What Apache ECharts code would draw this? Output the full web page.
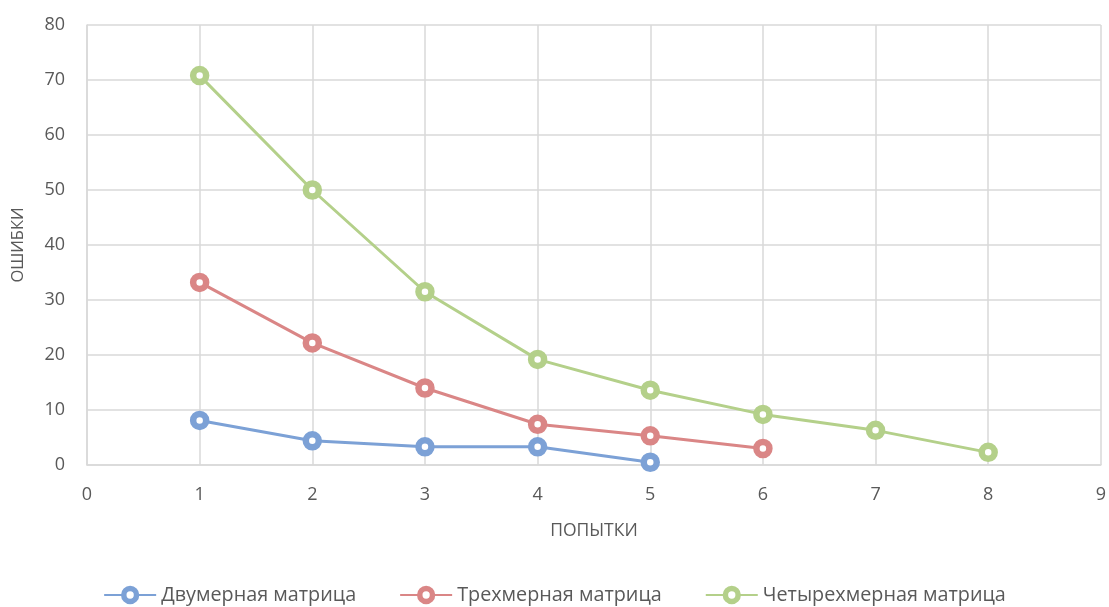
<!DOCTYPE html>
<html>
<head>
<meta charset="utf-8">
<script src="https://cdn.jsdelivr.net/npm/echarts@6/dist/echarts.min.js"></script>
<style>
  html, body { margin: 0; padding: 0; background: #fff; }
  #chart { width: 1109px; height: 607px; }
</style>
</head>
<body>
<div id="chart"></div>
<script>
// Attempt number (x) and error count (y) for each matrix type
const seriesNames = ['Двумерная матрица', 'Трехмерная матрица', 'Четырехмерная матрица'];
const attempts2d = [1, 2, 3, 4, 5];
const errors2d = [8.1, 4.4, 3.3, 3.3, 0.5];
const attempts3d = [1, 2, 3, 4, 5, 6];
const errors3d = [33.2, 22.2, 14.0, 7.4, 5.3, 3.0];
const attempts4d = [1, 2, 3, 4, 5, 6, 7, 8];
const errors4d = [70.8, 50.0, 31.5, 19.2, 13.6, 9.2, 6.3, 2.3];
const colors = ['#7ca1d6', '#da8686', '#b4d08a'];

const pairs = (xs, ys) => xs.map((x, i) => [x, ys[i]]);
const textColor = '#595959';
const font = 'Open Sans';

const ringStyle = (color) => ({ color: '#ffffff', borderColor: color, borderWidth: 6.5 });

const makeSeries = (name, data, color) => ({
  name,
  type: 'line',
  data,
  symbol: 'circle',
  symbolSize: 13,
  lineStyle: { color, width: 3 },
  itemStyle: ringStyle(color),
  emphasis: { disabled: true },
  z: 3
});

const chart = echarts.init(document.getElementById('chart'), null, { renderer: 'canvas' });
chart.setOption({
  animation: false,
  backgroundColor: '#ffffff',
  textStyle: { fontFamily: font, color: textColor },
  grid: { left: 87, right: 7, top: 25, bottom: 142 },
  xAxis: {
    type: 'value',
    min: 0, max: 9, interval: 1,
    name: 'ПОПЫТКИ',
    nameLocation: 'middle',
    nameGap: 57,
    nameTextStyle: { fontSize: 17.5, color: textColor, fontFamily: font },
    axisLine: { show: true, lineStyle: { color: '#d9d9d9', width: 1.5 } },
    axisTick: { show: false },
    axisLabel: { fontSize: 18, color: textColor, margin: 21, fontFamily: font },
    splitLine: { show: true, lineStyle: { color: '#d9d9d9', width: 1.5 } }
  },
  yAxis: {
    type: 'value',
    min: 0, max: 80, interval: 10,
    name: 'ОШИБКИ',
    nameLocation: 'middle',
    nameGap: 60,
    nameTextStyle: { fontSize: 16.5, color: textColor, fontFamily: font },
    axisLine: { show: true, lineStyle: { color: '#d9d9d9', width: 1.5 } },
    axisTick: { show: false },
    axisLabel: { fontSize: 18, color: textColor, margin: 22, fontFamily: font },
    splitLine: { show: true, lineStyle: { color: '#d9d9d9', width: 1.5 } }
  },
  legend: {
    bottom: -3,
    left: 'center',
    itemWidth: 52,
    itemHeight: 16,
    itemGap: 43,
    textStyle: { fontSize: 19.8, color: textColor, fontFamily: font },
    data: seriesNames.map((name, i) => ({
      name,
      itemStyle: { color: '#ffffff', borderColor: colors[i], borderWidth: 5.5 }
    }))
  },
  series: [
    makeSeries(seriesNames[0], pairs(attempts2d, errors2d), colors[0]),
    makeSeries(seriesNames[1], pairs(attempts3d, errors3d), colors[1]),
    makeSeries(seriesNames[2], pairs(attempts4d, errors4d), colors[2])
  ]
});
</script>
</body>
</html>
